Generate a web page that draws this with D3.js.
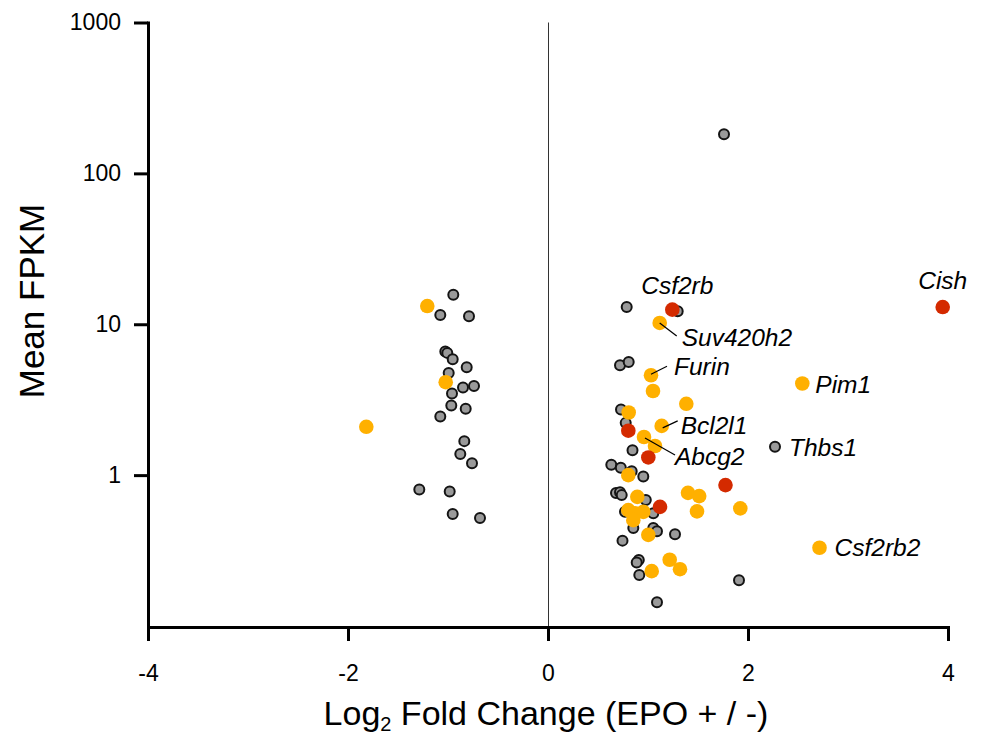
<!DOCTYPE html>
<html>
<head>
<meta charset="utf-8">
<script src="https://cdn.jsdelivr.net/npm/d3@7"></script>
<style>
  html, body { margin: 0; padding: 0; background: #fff; }
  svg { display: block; }
</style>
</head>
<body>
<svg id="chart" width="981" height="736"></svg>
<script>
// ---------------- DATA ----------------
// [log2 fold change, mean FPKM]
const greyPoints = [
  [-0.947, 15.7], [-1.077, 11.5], [-0.79, 11.3], [-1.027, 6.6], [-1.007, 6.46],
  [-0.953, 5.87], [-0.813, 5.19], [-0.993, 4.76], [-0.85, 3.81], [-0.74, 3.89],
  [-0.96, 3.48], [-0.967, 2.89], [-0.823, 2.75], [-1.077, 2.45], [-0.837, 1.68],
  [-0.877, 1.38], [-0.76, 1.20], [-1.287, 0.804], [-0.983, 0.78], [-0.953, 0.552],
  [-0.68, 0.519],
  [1.76, 182], [0.787, 13.0], [1.297, 12.2], [0.72, 5.35], [0.807, 5.63],
  [0.73, 2.72], [0.777, 2.22], [0.845, 1.46], [0.633, 1.17], [0.728, 1.12],
  [0.837, 1.06], [0.953, 0.98], [0.68, 0.76], [0.72, 0.77], [0.737, 0.737],
  [0.978, 0.683], [0.77, 0.571], [1.053, 0.558], [0.853, 0.447], [1.053, 0.447],
  [1.09, 0.425], [1.27, 0.405], [0.745, 0.368], [0.908, 0.274], [0.887, 0.264],
  [0.913, 0.218], [1.09, 0.1435], [1.91, 0.201], [2.27, 1.54]
];
const orangePoints = [
  [-1.207, 13.2], [-1.023, 4.13], [-1.817, 2.09],
  [1.117, 10.2], [1.03, 4.59], [1.05, 3.61], [1.383, 2.97], [0.807, 2.60],
  [1.137, 2.12], [0.96, 1.79], [1.07, 1.56], [0.803, 1.0], [0.893, 0.718],
  [0.803, 0.586], [0.953, 0.571], [0.87, 0.558], [0.853, 0.503], [1.003, 0.402],
  [1.40, 0.763], [1.512, 0.726], [1.49, 0.575], [1.923, 0.602], [1.217, 0.275],
  [1.32, 0.238], [1.037, 0.231], [2.543, 4.05], [2.715, 0.330]
];
const redPoints = [
  [1.243, 12.5], [0.803, 1.97], [1.003, 1.31], [1.12, 0.616], [1.775, 0.859], [3.947, 13.0]
];
// labelled genes: [name, log2FC, FPKM]
const geneLabels = [
  ["Csf2rb", 1.243, 12.5], ["Suv420h2", 1.117, 10.2], ["Furin", 1.03, 4.59],
  ["Pim1", 2.543, 4.05], ["Bcl2l1", 1.137, 2.12], ["Abcg2", 0.96, 1.79],
  ["Thbs1", 2.27, 1.54], ["Csf2rb2", 2.715, 0.330], ["Cish", 3.947, 13.0]
];
const xTicks = [-4, -2, 0, 2, 4];
const yTicks = [1, 10, 100, 1000];

// ---------------- LAYOUT ----------------
const labelLayout = {
  "Csf2rb":   { dx: 5,  dy: -16, anchor: "middle" },
  "Suv420h2": { dx: 22, dy: 23,  anchor: "start", line: [0, 0, 17, 13] },
  "Furin":    { dx: 23, dy: 0,   anchor: "start", line: [0, -1, 16, -9] },
  "Pim1":     { dx: 13, dy: 10,  anchor: "start" },
  "Bcl2l1":   { dx: 19, dy: 8,   anchor: "start", line: [1, 2, 16, -5] },
  "Abcg2":    { dx: 31, dy: 28,  anchor: "start", line: [1, 1, 31, 18] },
  "Thbs1":    { dx: 14, dy: 9,   anchor: "start" },
  "Csf2rb2":  { dx: 15, dy: 8,   anchor: "start" },
  "Cish":     { dx: 0,  dy: -18, anchor: "middle" }
};

const svg = d3.select("#chart");
const FONT = "'Liberation Sans', Arial, Helvetica, sans-serif";

const x = d3.scaleLinear().domain([-4, 4]).range([148, 948]);
const yMin = Math.pow(10, -152 / 151);
const y = d3.scaleLog().domain([yMin, 1000]).range([627, 22.5]);

// zero line
svg.append("line")
  .attr("x1", x(0) + 0.5).attr("x2", x(0) + 0.5)
  .attr("y1", y(1000)).attr("y2", y(yMin))
  .attr("stroke", "#333").attr("stroke-width", 1);

// axes
const xAxis = svg.append("g")
  .attr("transform", `translate(0,${y(yMin)})`)
  .call(d3.axisBottom(x).tickValues(xTicks).tickFormat(d => String(d))
        .tickSize(14).tickSizeOuter(0).tickPadding(24));
const yAxis = svg.append("g")
  .attr("transform", `translate(${x(-4)},0)`)
  .call(d3.axisLeft(y).tickValues(yTicks).tickFormat(d => String(d))
        .tickSize(14).tickSizeOuter(0).tickPadding(13));

[xAxis, yAxis].forEach(g => {
  g.select(".domain").attr("stroke", "#000").attr("stroke-width", 3).attr("stroke-linecap", "square");
  g.selectAll(".tick line").attr("stroke", "#000").attr("stroke-width", 3);
  g.selectAll(".tick text").attr("fill", "#000").attr("font-family", FONT).attr("font-size", 23)
    .style("font-family", FONT).style("font-size", "23px");
});

// points
svg.append("g").selectAll("circle").data(greyPoints).join("circle")
  .attr("cx", d => x(d[0])).attr("cy", d => y(d[1])).attr("r", 5)
  .attr("fill", "#9a9a9a").attr("stroke", "#141414").attr("stroke-width", 2);
svg.append("g").selectAll("circle").data(orangePoints).join("circle")
  .attr("cx", d => x(d[0])).attr("cy", d => y(d[1])).attr("r", 7.3)
  .attr("fill", "#FFB000");
svg.append("g").selectAll("circle").data(redPoints).join("circle")
  .attr("cx", d => x(d[0])).attr("cy", d => y(d[1])).attr("r", 7.3)
  .attr("fill", "#D42A00");

// labels
const lg = svg.append("g");
geneLabels.forEach(([name, fx, fy]) => {
  const L = labelLayout[name];
  const px = x(fx), py = y(fy);
  if (L.line) {
    lg.append("line")
      .attr("x1", px + L.line[0]).attr("y1", py + L.line[1])
      .attr("x2", px + L.line[2]).attr("y2", py + L.line[3])
      .attr("stroke", "#000").attr("stroke-width", 1.2);
  }
  lg.append("text")
    .attr("x", px + L.dx).attr("y", py + L.dy)
    .attr("text-anchor", L.anchor)
    .style("font-family", FONT).style("font-style", "italic").style("font-size", "24.5px")
    .attr("fill", "#000")
    .text(name);
});

// axis titles
const xt = svg.append("text")
  .attr("x", 546).attr("y", 725)
  .attr("text-anchor", "middle")
  .style("font-family", FONT).style("font-size", "34px").attr("fill", "#000");
xt.append("tspan").text("Log");
xt.append("tspan").text("2").style("font-size", "20px").attr("dy", 6);
xt.append("tspan").text(" Fold Change (EPO + / -)").attr("dy", -6);

svg.append("text")
  .attr("transform", "translate(44,301) rotate(-90)")
  .attr("text-anchor", "middle")
  .style("font-family", FONT).style("font-size", "35px").attr("fill", "#000")
  .text("Mean FPKM");
</script>
</body>
</html>
